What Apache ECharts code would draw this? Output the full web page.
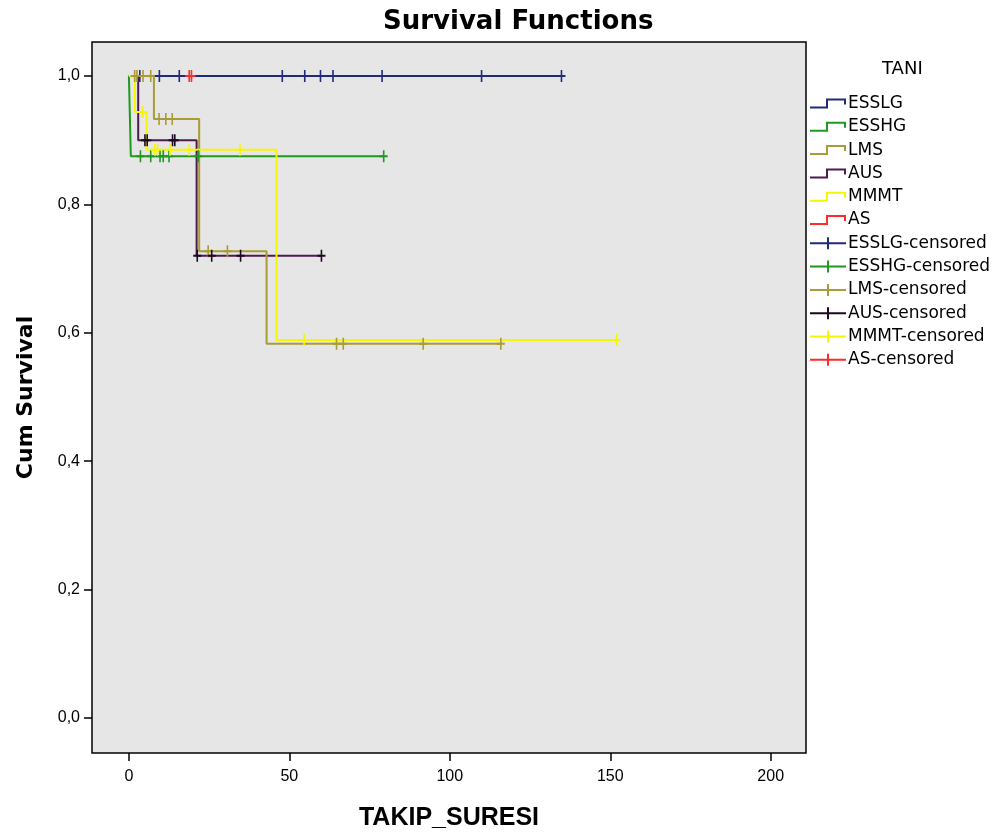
<!DOCTYPE html>
<html>
<head>
<meta charset="utf-8">
<script src="https://cdn.jsdelivr.net/npm/echarts@6/dist/echarts.min.js"></script>
<style>html,body{margin:0;padding:0;background:#fff;}#c{width:1004px;height:840px;}</style>
</head>
<body>
<div id="c"></div>
<script>
// ---- data ----
const groups = ['ESSLG','ESSHG','LMS','AUS','MMMT','AS'];
const colors = ['#1f2a7c','#1e9a1e','#a89c36','#4e1a50','#f8f500','#ff2a2a'];
const censorColors = ['#1f2a7c','#1e9a1e','#a89c36','#1e0a20','#f8f500','#ff2a2a'];

// step curves: event times and survival
const esslgTimes = [0, 134.8];           const esslgSurv = [1, 1];
const esshgTimes = [0, 0.6, 79.4];       const esshgSurv = [1, 0.875, 0.875];
const lmsTimes   = [0, 7.8, 21.9, 42.9, 115.9]; const lmsSurv = [1, 0.933, 0.727, 0.583, 0.583];
const ausTimes   = [0, 2.9, 21.1, 60.0]; const ausSurv = [1, 0.9, 0.72, 0.72];
const mmmtTimes  = [0, 1.9, 5.5, 46.0, 151.9]; const mmmtSurv = [1, 0.944, 0.885, 0.589, 0.589];
const asTimes    = [0, 19.5];            const asSurv = [1, 1];

// censored observations
const esslgCensT = [3.4, 9.5, 15.7, 47.8, 54.8, 59.7, 63.6, 78.9, 109.9, 134.8];
const esslgCensS = [1, 1, 1, 1, 1, 1, 1, 1, 1, 1];
const esshgCensT = [3.6, 6.8, 9.7, 10.7, 12.5, 21.6, 79.4];
const esshgCensS = [0.875, 0.875, 0.875, 0.875, 0.875, 0.875, 0.875];
const lmsCensT = [1.8, 2.5, 4.4, 6.8, 9.4, 11.5, 13.5, 24.7, 30.7, 64.7, 66.8, 91.7, 115.9];
const lmsCensS = [1, 1, 1, 1, 0.933, 0.933, 0.933, 0.727, 0.727, 0.583, 0.583, 0.583, 0.583];
const ausCensT = [5.0, 5.7, 13.6, 14.3, 21.3, 25.8, 34.8, 60.0];
const ausCensS = [0.9, 0.9, 0.9, 0.9, 0.72, 0.72, 0.72, 0.72];
const mmmtCensT = [4.3, 8.1, 8.9, 12.8, 18.8, 34.6, 54.6, 151.9];
const mmmtCensS = [0.944, 0.885, 0.885, 0.885, 0.885, 0.885, 0.589, 0.589];
const asCensT = [18.8, 19.5];
const asCensS = [1, 1];

const xTicks = [0, 50, 100, 150, 200];
const yTicks = [0, 0.2, 0.4, 0.6, 0.8, 1.0];

// ---- build ----
const curveT = [esslgTimes, esshgTimes, lmsTimes, ausTimes, mmmtTimes, asTimes];
const curveS = [esslgSurv, esshgSurv, lmsSurv, ausSurv, mmmtSurv, asSurv];
const censT = [esslgCensT, esshgCensT, lmsCensT, ausCensT, mmmtCensT, asCensT];
const censS = [esslgCensS, esshgCensS, lmsCensS, ausCensS, mmmtCensS, asCensS];
const zLine = [3, 3, 5, 4, 6, 2];

const stepIcon = 'path://M0,8H16V0H36V6H34V2H18V10H0Z';
const plusIcon = 'path://M0,5H17V0H19V5H36V7H19V12H17V7H0Z';
const censorSymbol = 'path://M0,5H4V0H6V5H10V7H6V12H4V7H0Z';

const series = [];
groups.forEach((g, i) => {
  series.push({
    name: g, type: 'line', step: 'end', showSymbol: false, symbol: 'none',
    data: curveT[i].map((t, k) => [t, curveS[i][k]]),
    lineStyle: { color: colors[i], width: 2 }, itemStyle: { color: colors[i] },
    z: zLine[i], animation: false, silent: true
  });
});
groups.forEach((g, i) => {
  series.push({
    name: g + '-censored', type: 'scatter',
    data: censT[i].map((t, k) => [t, censS[i][k]]),
    symbol: censorSymbol, symbolSize: [8, 12],
    itemStyle: { color: censorColors[i], opacity: 1 },
    z: 10 + i, animation: false, silent: true
  });
});

const legendData = groups.map(g => ({ name: g, icon: stepIcon }))
  .concat(groups.map(g => ({ name: g + '-censored', icon: plusIcon })));

const fmt = v => (Math.round(v * 10) / 10).toFixed(1).replace('.', ',');

const chart = echarts.init(document.getElementById('c'), null, { renderer: 'canvas' });
chart.setOption({
  animation: false,
  backgroundColor: '#ffffff',
  title: [{
    text: 'Survival Functions', left: 378, top: 4,
    textStyle: { fontFamily: 'DejaVu Sans', fontWeight: 'bold', fontSize: 26, color: '#000' }
  }, {
    text: 'TANI', left: 877, top: 55,
    textStyle: { fontFamily: 'DejaVu Sans', fontWeight: 'normal', fontSize: 18, color: '#000' }
  }],
  legend: {
    orient: 'vertical', left: 805, top: 90,
    itemWidth: 36, itemHeight: 12, itemGap: 6.3,
    data: legendData,
    selectedMode: false,
    textStyle: { fontFamily: 'DejaVu Sans', fontSize: 17, color: '#000', lineHeight: 16, padding: [0, 0, 0, -3] }
  },
  grid: {
    left: 92, right: 198, top: 42, bottom: 87,
    show: true, backgroundColor: '#e6e6e6', borderColor: '#000', borderWidth: 1.5
  },
  xAxis: {
    type: 'value', min: -11.5, max: 211,
    name: 'TAKIP_SURESI', nameLocation: 'middle', nameGap: 53,
    nameTextStyle: { fontFamily: 'Liberation Sans', fontWeight: 'bold', fontSize: 25, color: '#000' },
    axisLine: { show: false, onZero: false },
    axisTick: { show: true, customValues: xTicks, length: 8, lineStyle: { color: '#000', width: 1.5 } },
    axisLabel: { customValues: xTicks, fontFamily: 'Liberation Sans', fontSize: 16, color: '#000', margin: 16 },
    splitLine: { show: false }
  },
  yAxis: {
    type: 'value', min: -0.0545, max: 1.053,
    name: 'Cum Survival', nameLocation: 'middle', nameGap: 55,
    nameTextStyle: { fontFamily: 'DejaVu Sans', fontWeight: 'bold', fontSize: 22, color: '#000' },
    axisLine: { show: false, onZero: false },
    axisTick: { show: true, customValues: yTicks, length: 8, lineStyle: { color: '#000', width: 1.5 } },
    axisLabel: { customValues: yTicks, formatter: fmt, fontFamily: 'Liberation Sans', fontSize: 16, color: '#000', margin: 12 },
    splitLine: { show: false }
  },
  series: series
});
</script>
</body>
</html>
